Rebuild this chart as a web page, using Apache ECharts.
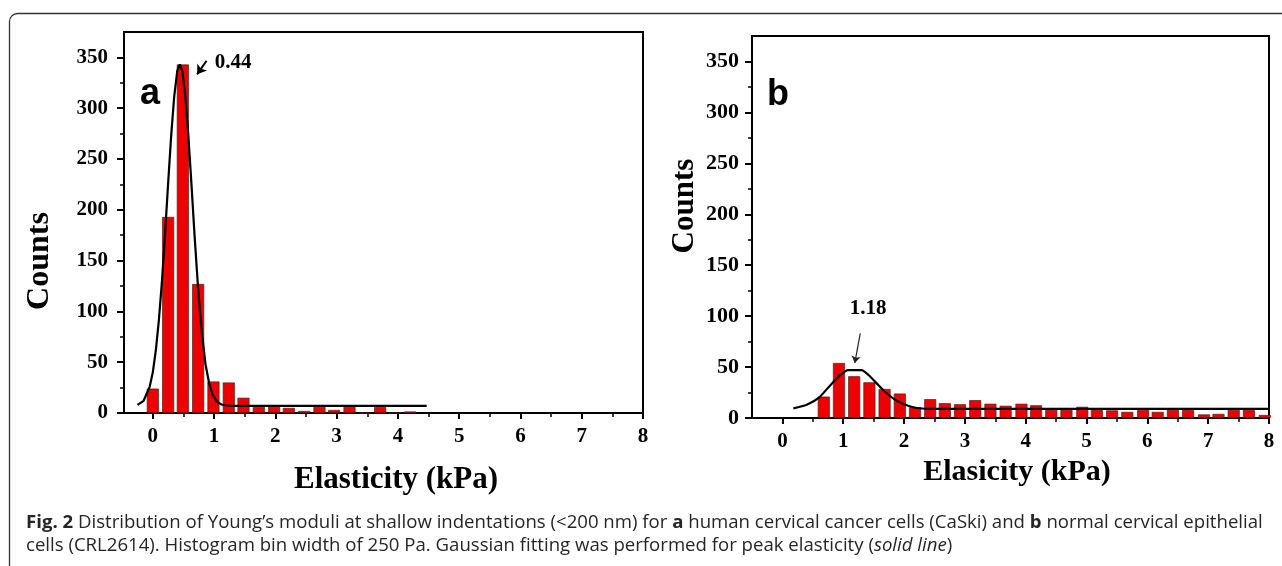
<!DOCTYPE html>
<html>
<head>
<meta charset="utf-8" />
<script src="https://cdn.jsdelivr.net/npm/echarts@6.0.0/dist/echarts.min.js"></script>
<style>
  html, body { margin: 0; padding: 0; background: #fff; }
  #main { width: 1282px; height: 566px; }
</style>
</head>
<body>
<div id="main"></div>
<script type="text/javascript">
// panel a - CaSki, bin centres (kPa) and counts
const binsA   = [0, 0.25, 0.49, 0.74, 0.99, 1.24, 1.48, 1.73, 1.98, 2.22, 2.47, 2.72, 2.96, 3.21, 3.46, 3.71, 3.95, 4.2];
const countsA = [24, 193, 343, 127, 31, 30, 15, 6, 6, 5, 2, 6, 3, 6, 0, 6, 0, 1.5];
// gaussian fit
const fitXA = [-0.25, -0.15, -0.05, 0, 0.05, 0.1, 0.15, 0.2, 0.25, 0.3, 0.35, 0.4, 0.44, 0.48, 0.53, 0.58, 0.63, 0.68,
               0.74, 0.8, 0.86, 0.92, 0.98, 1.05, 1.12, 1.2, 1.3, 4.47];
const fitYA = [8, 12, 26, 40, 62, 92, 130, 176, 226, 273, 312, 337, 343, 337, 312, 273, 226, 176,
               122, 79, 48, 29, 17.5, 11, 8.4, 7.4, 7, 7];

// panel b - CRL2614
const binsB   = [0.68, 0.93, 1.18, 1.43, 1.68, 1.93, 2.18, 2.43, 2.67, 2.92, 3.17, 3.42, 3.67, 3.93, 4.17,
                 4.42, 4.67, 4.93, 5.17, 5.42, 5.67, 5.93, 6.17, 6.42, 6.67, 6.93, 7.17, 7.42, 7.67, 7.93];
const countsB = [21, 54, 41, 35, 28.5, 24, 10.5, 18.5, 14.5, 13.5, 17.5, 14, 12, 14, 12.5,
                 8, 8, 11, 8, 7.5, 6, 8, 6, 8, 8, 3.5, 4, 8, 8, 3];
const fitXB = [0.18, 0.4, 0.6, 0.8, 0.95, 1.08, 1.3, 1.42, 1.55, 1.7, 1.85, 2.0, 2.15, 2.3, 2.5, 8];
const fitYB = [9.5, 13, 20, 33, 42, 47, 47, 42, 34, 25, 18, 13.5, 10.5, 9.3, 9, 9];

// tick values
const xMajor = [0, 1, 2, 3, 4, 5, 6, 7, 8];
const xMinor = [0.5, 1.5, 2.5, 3.5, 4.5, 5.5, 6.5, 7.5];
const yMajor = [0, 50, 100, 150, 200, 250, 300, 350];
const yMinor = [25, 75, 125, 175, 225, 275, 325];

const serif = "'Liberation Serif', 'Times New Roman', serif";
const sans = "'Open Sans', 'Noto Sans', sans-serif";

function pairs(xs, ys) { return xs.map((x, i) => [x, ys[i]]); }

function xAxes(g, min, size) {
  const base = { type: 'value', gridIndex: g, min: min, max: 8, position: 'bottom', splitLine: { show: false } };
  return [
    Object.assign({}, base, {
      axisLine: { show: true, onZero: false, lineStyle: { color: '#000', width: 2 } },
      axisTick: { show: true, length: 6, customValues: xMajor, lineStyle: { color: '#000', width: 2 } },
      axisLabel: { customValues: xMajor, margin: 13, color: '#000', fontFamily: serif, fontWeight: 'bold', fontSize: size }
    }),
    Object.assign({}, base, {
      axisLine: { show: false, onZero: false },
      axisTick: { show: true, length: 4, customValues: xMinor, lineStyle: { color: '#000', width: 1.5 } },
      axisLabel: { show: false }
    })
  ];
}

function yAxes(g, margin, size) {
  const base = { type: 'value', gridIndex: g, min: 0, max: 375, position: 'left', splitLine: { show: false } };
  return [
    Object.assign({}, base, {
      axisLine: { show: true, onZero: false, lineStyle: { color: '#000', width: 2 } },
      axisTick: { show: true, length: 7, customValues: yMajor, lineStyle: { color: '#000', width: 2 } },
      axisLabel: { customValues: yMajor, margin: margin, color: '#000', fontFamily: serif, fontWeight: 'bold', fontSize: size }
    }),
    Object.assign({}, base, {
      axisLine: { show: false, onZero: false },
      axisTick: { show: true, length: 4, customValues: yMinor, lineStyle: { color: '#000', width: 1.5 } },
      axisLabel: { show: false }
    })
  ];
}

// caption font size fitted to the line width of the figure
const cap1 = [['b', 'Fig. 2'], ['n', ' Distribution of Young\u2019s moduli at shallow indentations (<200 nm) for '], ['b', 'a'],
              ['n', ' human cervical cancer cells (CaSki) and '], ['b', 'b'], ['n', ' normal cervical epithelial']];
const cap2 = [['n', 'cells (CRL2614). Histogram bin width of 250 Pa. Gaussian fitting was performed for peak elasticity ('],
              ['i', 'solid line'], ['n', ')']];
const ctx = document.createElement('canvas').getContext('2d');
function measure(parts, size) {
  let w = 0;
  parts.forEach(p => {
    ctx.font = (p[0] === 'b' ? 'bold ' : p[0] === 'i' ? 'italic ' : '') + size + 'px ' + sans;
    w += ctx.measureText(p[1]).width;
  });
  return w;
}
const capSize = Math.round(1000 * 1236 / measure(cap1, 100)) / 10;
function richText(parts) { return parts.map(p => p[0] === 'n' ? p[1] : '{' + p[0] + '|' + p[1] + '}').join(''); }

const chart = echarts.init(document.getElementById('main'));

const barStyle = { color: '#ee0000', borderColor: '#5a1a1a', borderWidth: 0.7 };
const fitLine = { color: '#000', width: 2.2 };
const capColor = '#262626';
const capRich = {
  b: { fontWeight: 'bold', fontSize: capSize, fontFamily: sans, fill: capColor },
  i: { fontStyle: 'italic', fontSize: capSize, fontFamily: sans, fill: capColor }
};

const option = {
  animation: false,
  backgroundColor: '#fff',
  grid: [
    { left: 124, top: 32, width: 519, height: 381, show: true, borderColor: '#000', borderWidth: 2, backgroundColor: 'transparent' },
    { left: 752, top: 36, width: 517, height: 382, show: true, borderColor: '#000', borderWidth: 2, backgroundColor: 'transparent' }
  ],
  xAxis: xAxes(0, -0.47, 21).concat(xAxes(1, -0.5, 21)),
  yAxis: yAxes(0, 16, 21).concat(yAxes(1, 13, 22)),
  series: [
    {
      type: 'bar', xAxisIndex: 0, yAxisIndex: 0, barWidth: 12,
      itemStyle: barStyle, data: pairs(binsA, countsA)
    },
    {
      type: 'line', xAxisIndex: 0, yAxisIndex: 0, symbol: 'none', smooth: false,
      lineStyle: fitLine, z: 3, data: pairs(fitXA, fitYA),
      markLine: {
        silent: true, symbol: ['none', 'arrow'], symbolSize: 9,
        lineStyle: { color: '#000', width: 2, type: 'solid' }, label: { show: false },
        data: [[{ coord: [0.877, 346.7] }, { coord: [0.723, 333.3] }]]
      },
      markPoint: {
        silent: true, symbol: 'circle', symbolSize: 0,
        label: { show: true, position: 'right', distance: 0, formatter: '0.44', color: '#000', fontFamily: serif, fontWeight: 'bold', fontSize: 21 },
        data: [{ coord: [1.01, 345] }]
      }
    },
    {
      type: 'bar', xAxisIndex: 2, yAxisIndex: 2, barWidth: 12,
      itemStyle: barStyle, data: pairs(binsB, countsB)
    },
    {
      type: 'line', xAxisIndex: 2, yAxisIndex: 2, symbol: 'none', smooth: 0.25,
      lineStyle: fitLine, z: 3, data: pairs(fitXB, fitYB),
      markLine: {
        silent: true, symbol: ['none', 'arrow'], symbolSize: 7,
        lineStyle: { color: '#222', width: 1.2, type: 'solid' }, label: { show: false },
        data: [[{ coord: [1.28, 83] }, { coord: [1.19, 54] }]]
      },
      markPoint: {
        silent: true, symbol: 'circle', symbolSize: 0,
        label: { show: true, position: 'inside', formatter: '1.18', color: '#000', fontFamily: serif, fontWeight: 'bold', fontSize: 21 },
        data: [{ coord: [1.41, 107] }]
      }
    }
  ],
  graphic: [
    { type: 'rect', shape: { x: 9.5, y: 13.5, width: 1300, height: 600, r: 8 }, style: { fill: 'none', stroke: '#333', lineWidth: 1.3 }, silent: true },
    { type: 'text', x: 140, y: 76, style: { text: 'a', fill: '#000', font: 'bold 36px "Liberation Sans", Arial, sans-serif', textVerticalAlign: 'alphabetic' } },
    { type: 'text', x: 767, y: 77, style: { text: 'b', fill: '#000', font: 'bold 36px "Liberation Sans", Arial, sans-serif', textVerticalAlign: 'alphabetic' } },
    { type: 'text', x: 40, y: 261, rotation: Math.PI / 2, style: { text: 'Counts', fill: '#000', font: 'bold 32px ' + serif, textAlign: 'center', textVerticalAlign: 'middle' } },
    { type: 'text', x: 685, y: 206, rotation: Math.PI / 2, style: { text: 'Counts', fill: '#000', font: 'bold 31px ' + serif, textAlign: 'center', textVerticalAlign: 'middle' } },
    { type: 'text', x: 396, y: 480, style: { text: 'Elasticity (kPa)', fill: '#000', font: 'bold 31px ' + serif, textAlign: 'center', textVerticalAlign: 'middle' } },
    { type: 'text', x: 1017, y: 472, style: { text: 'Elasicity (kPa)', fill: '#000', font: 'bold 30px ' + serif, textAlign: 'center', textVerticalAlign: 'middle' } },
    { type: 'text', x: 26, y: 523, style: { text: richText(cap1), fill: capColor, font: capSize + 'px ' + sans, textVerticalAlign: 'middle', rich: capRich } },
    { type: 'text', x: 26, y: 546, style: { text: richText(cap2), fill: capColor, font: capSize + 'px ' + sans, textVerticalAlign: 'middle', rich: capRich } }
  ]
};

chart.setOption(option);
</script>
</body>
</html>
